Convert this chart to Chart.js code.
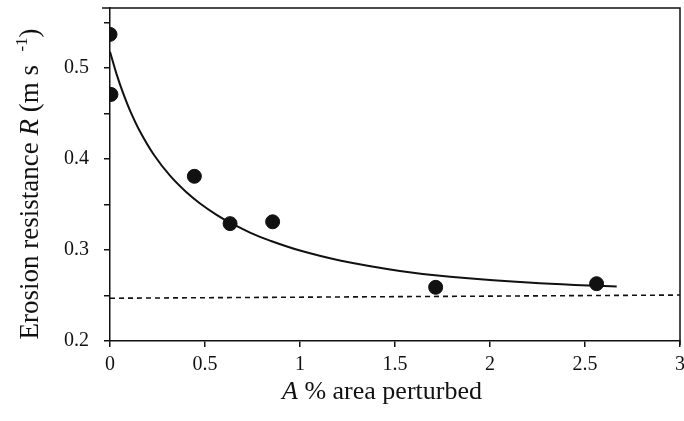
<!DOCTYPE html>
<html>
<head>
<meta charset="utf-8">
<script src="https://cdn.jsdelivr.net/npm/chart.js@4"></script>
<style>
  html, body { margin: 0; padding: 0; background: #fff; overflow: hidden; }
  #wrap { width: 688px; height: 421px; }
  canvas { display: block; }
</style>
</head>
<body>
<div id="wrap"><canvas id="chart"></canvas></div>
<script>
// Observed points (A % area perturbed vs erosion resistance R)
const pointX = [0, 0.005, 0.444, 0.632, 0.856, 1.714, 2.561];
const pointY = [0.537, 0.471, 0.381, 0.329, 0.331, 0.259, 0.263];

// Fitted curve
const curveX = [0, 0.035, 0.07, 0.105, 0.158, 0.228, 0.316, 0.404, 0.474, 0.561, 0.632, 0.737, 0.842, 1.0, 1.21, 1.526, 1.79, 2.263, 2.667];
const curveY = [0.518, 0.4931, 0.4719, 0.4535, 0.4302, 0.4056, 0.3817, 0.3631, 0.3511, 0.3386, 0.3300, 0.3192, 0.3103, 0.2994, 0.2885, 0.2770, 0.2705, 0.2634, 0.2599];

// Dashed reference line
const refX = [0, 3];
const refY = [0.247, 0.2505];

// Axis ticks
const xTicks = [0, 0.5, 1, 1.5, 2, 2.5, 3];
const yLabelTicks = [0.2, 0.3, 0.4, 0.5];

const FONT = "'Liberation Serif', 'Times New Roman', serif";
const INK = '#111';

const zip = (xs, ys) => xs.map((x, i) => ({ x: x, y: ys[i] }));

// Top and right frame lines + axis titles
const decor = {
    id: 'decor',
    afterDraw(chart) {
        const c = chart.ctx;
        const a = chart.chartArea;
        c.save();
        c.strokeStyle = INK;
        c.lineWidth = 1.5;
        c.beginPath();
        c.moveTo(a.left - 8, a.top);
        c.lineTo(a.right, a.top);
        c.lineTo(a.right, a.bottom + 4);
        c.stroke();

        c.fillStyle = INK;
        c.textBaseline = 'alphabetic';

        // x title: italic A + rest
        const xParts = [
            { t: 'A', f: 'italic 26px ' + FONT },
            { t: ' % area perturbed', f: '26px ' + FONT }
        ];
        let w = 0;
        xParts.forEach(p => { c.font = p.f; w += c.measureText(p.t).width; });
        let x = 382 - w / 2;
        xParts.forEach(p => {
            c.font = p.f;
            c.fillText(p.t, x, 399);
            x += c.measureText(p.t).width;
        });

        // y title, rotated
        const yParts = [
            { t: 'Erosion resistance ', f: '27px ' + FONT, dy: 0 },
            { t: 'R', f: 'italic 27px ' + FONT, dy: 0 },
            { t: ' (m s  ', f: '27px ' + FONT, dy: 0 },
            { t: '-1', f: '17px ' + FONT, dy: -11 },
            { t: ')', f: '27px ' + FONT, dy: 0 }
        ];
        w = 0;
        yParts.forEach(p => { c.font = p.f; w += c.measureText(p.t).width; });
        c.translate(38, 184);
        c.rotate(-Math.PI / 2);
        x = -w / 2;
        yParts.forEach(p => {
            c.font = p.f;
            c.fillText(p.t, x, p.dy);
            x += c.measureText(p.t).width;
        });
        c.restore();
    }
};

new Chart(document.getElementById('chart'), {
    type: 'scatter',
    data: {
        datasets: [
            {
                type: 'line',
                data: zip(refX, refY),
                borderColor: INK,
                borderWidth: 1.6,
                borderDash: [5, 4],
                pointRadius: 0,
                fill: false
            },
            {
                type: 'line',
                data: zip(curveX, curveY),
                borderColor: INK,
                borderWidth: 2,
                pointRadius: 0,
                tension: 0.4,
                fill: false
            },
            {
                data: zip(pointX, pointY),
                backgroundColor: INK,
                borderColor: INK,
                pointRadius: 7,
                pointHoverRadius: 7
            }
        ]
    },
    options: {
        responsive: true,
        maintainAspectRatio: false,
        animation: false,
        layout: { padding: { top: 8, right: 0, left: 0, bottom: 0 } },
        plugins: {
            legend: { display: false },
            tooltip: { enabled: false }
        },
        scales: {
            x: {
                type: 'linear',
                min: 0,
                max: 3,
                afterFit: s => {
                    s.height = 80;
                    s.paddingLeft = 0;
                    s.paddingRight = 0;
                },
                afterBuildTicks: s => { s.ticks = xTicks.map(v => ({ value: v })); },
                grid: { drawOnChartArea: false, drawTicks: true, tickLength: 6, color: INK, lineWidth: 1.5 },
                border: { display: true, color: INK, width: 1.5 },
                ticks: {
                    color: INK,
                    padding: 6,
                    font: { family: FONT, size: 20 },
                    maxRotation: 0,
                    callback: v => String(v)
                }
            },
            y: {
                type: 'linear',
                min: 0.2,
                max: 0.566,
                afterFit: s => {
                    s.width = 110;
                    s.paddingTop = 0;
                    s.paddingBottom = 0;
                },
                afterBuildTicks: s => {
                    const t = [];
                    for (let i = 0; i <= 7; i++) t.push({ value: Math.round((0.2 + i * 0.05) * 100) / 100 });
                    s.ticks = t;
                },
                grid: { drawOnChartArea: false, drawTicks: true, tickLength: 6, color: INK, lineWidth: 1.5 },
                border: { display: true, color: INK, width: 1.5 },
                ticks: {
                    color: INK,
                    padding: 15,
                    font: { family: FONT, size: 20 },
                    callback: v => yLabelTicks.some(t => Math.abs(t - v) < 1e-6) ? v.toFixed(1) : ''
                }
            }
        }
    },
    plugins: [decor]
});
</script>
</body>
</html>
